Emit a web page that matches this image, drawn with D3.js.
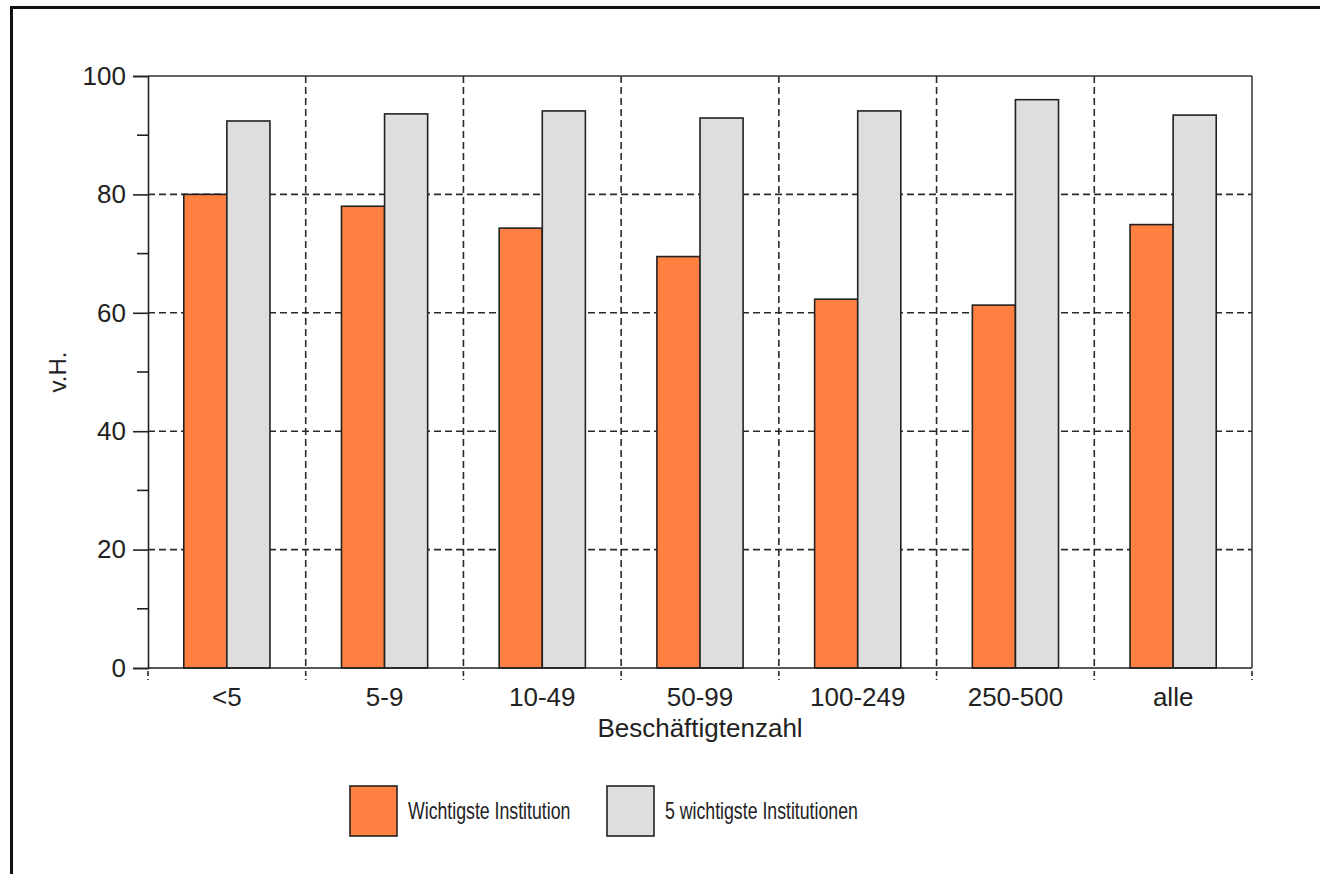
<!DOCTYPE html>
<html><head><meta charset="utf-8">
<script src="https://cdn.jsdelivr.net/npm/d3@7"></script>
<style>
html,body{margin:0;padding:0;background:#fff;}
svg{display:block;}
text{font-family:"Liberation Sans",Arial,Helvetica,sans-serif;fill:#222;}
</style></head>
<body>
<svg id="chart" width="1320" height="874"></svg>
<script>
const categories = ["<5","5-9","10-49","50-99","100-249","250-500","alle"];
const wichtigste = [80.0,78.0,74.3,69.5,62.3,61.3,74.9];
const fuenfWichtigste = [92.4,93.6,94.1,92.9,94.1,96.0,93.4];
const seriesNames = ["Wichtigste Institution","5 wichtigste Institutionen"];
const yTicks = [0,20,40,60,80,100];
const colors = ["#FF8040","#DEDEDE"];

const svg = d3.select("#chart");
const M = {left:148, right:1252, top:76, bottom:668};

// outer frame (left and top visible)
svg.append("line").attr("x1",11.5).attr("x2",11.5).attr("y1",6).attr("y2",874).attr("stroke","#111").attr("stroke-width",3);
svg.append("line").attr("x1",10).attr("x2",1320).attr("y1",7.5).attr("y2",7.5).attr("stroke","#111").attr("stroke-width",3);

const x = d3.scaleBand().domain(categories).range([M.left,M.right]).paddingInner(0).paddingOuter(0);
const xs = d3.scaleBand().domain(seriesNames).range([0,x.bandwidth()]).paddingInner(0).paddingOuter(0.83);
const y = d3.scaleLinear().domain([0,100]).range([M.bottom,M.top]);

const dash = "7,4";
// horizontal grid
svg.append("g").selectAll("line").data(yTicks.filter(v=>v>0&&v<100)).join("line")
  .attr("x1",M.left).attr("x2",M.right).attr("y1",d=>y(d)).attr("y2",d=>y(d))
  .attr("stroke","#2a2a2a").attr("stroke-width",1.6).attr("stroke-dasharray",dash);
// vertical grid at category boundaries
const bounds = categories.slice(1).map(c=>x(c));
svg.append("g").selectAll("line").data(bounds).join("line")
  .attr("x1",d=>d).attr("x2",d=>d).attr("y1",M.top).attr("y2",M.bottom)
  .attr("stroke","#2a2a2a").attr("stroke-width",1.6).attr("stroke-dasharray",dash);
// ticks below baseline at boundaries
const allBounds = [M.left, ...bounds, M.right];
svg.append("g").selectAll("line").data(allBounds).join("line")
  .attr("x1",d=>d).attr("x2",d=>d).attr("y1",M.bottom+3).attr("y2",M.bottom+12)
  .attr("stroke","#2a2a2a").attr("stroke-width",1.6).attr("stroke-dasharray","5,3");

// bars
const data = categories.map((c,i)=>({c, vals:[wichtigste[i], fuenfWichtigste[i]]}));
const groups = svg.append("g").selectAll("g").data(data).join("g")
  .attr("transform",d=>`translate(${x(d.c)},0)`);
groups.selectAll("rect").data(d=>d.vals.map((v,j)=>({v,s:seriesNames[j],j}))).join("rect")
  .attr("x",d=>xs(d.s)).attr("width",xs.bandwidth())
  .attr("y",d=>y(d.v)).attr("height",d=>y(0)-y(d.v))
  .attr("fill",d=>colors[d.j]).attr("stroke","#222").attr("stroke-width",1.6);

// frame: top and right solid
svg.append("line").attr("x1",M.left).attr("x2",M.right).attr("y1",M.top).attr("y2",M.top).attr("stroke","#333").attr("stroke-width",1.5);
svg.append("line").attr("x1",M.right).attr("x2",M.right).attr("y1",M.top).attr("y2",M.bottom).attr("stroke","#333").attr("stroke-width",1.5);

// y axis
const yAxis = d3.axisLeft(y).tickValues(yTicks).tickSize(15).tickPadding(7).tickFormat(d3.format("d"));
const gy = svg.append("g").attr("transform",`translate(${M.left},0)`).call(yAxis);
gy.select(".domain").attr("stroke","#222").attr("stroke-width",1.6);
gy.selectAll(".tick line").attr("stroke","#222").attr("stroke-width",1.6);
gy.selectAll(".tick text").attr("font-size",26).attr("fill","#222").style("font-family","Liberation Sans, Arial, sans-serif");
// minor ticks
svg.append("g").selectAll("line").data(d3.range(10,100,20)).join("line")
  .attr("x1",M.left-11).attr("x2",M.left).attr("y1",d=>y(d)).attr("y2",d=>y(d))
  .attr("stroke","#222").attr("stroke-width",1.6);

// x axis baseline
svg.append("line").attr("x1",M.left).attr("x2",M.right).attr("y1",M.bottom).attr("y2",M.bottom).attr("stroke","#222").attr("stroke-width",1.6);
// x labels
svg.append("g").selectAll("text").data(categories).join("text")
  .attr("x",d=>x(d)+x.bandwidth()/2).attr("y",706).attr("text-anchor","middle")
  .attr("font-size",26).text(d=>d);

// axis titles
svg.append("text").attr("x",(M.left+M.right)/2).attr("y",737).attr("text-anchor","middle")
  .attr("font-size",26).text("Beschäftigtenzahl");
svg.append("text").attr("transform",`translate(66,${(M.top+M.bottom)/2}) rotate(-90)`)
  .attr("text-anchor","middle").attr("font-size",24).text("v.H.");

// legend
const legX = [350,607];
const lg = svg.append("g").selectAll("g").data(seriesNames).join("g")
  .attr("transform",(d,i)=>`translate(${legX[i]},786)`);
lg.append("rect").attr("width",47).attr("height",50).attr("fill",(d,i)=>colors[i]).attr("stroke","#222").attr("stroke-width",1.6);
lg.append("text").attr("transform","translate(58,32.5) scale(0.77,1)").attr("font-size",23).text(d=>d);
</script>
</body></html>
